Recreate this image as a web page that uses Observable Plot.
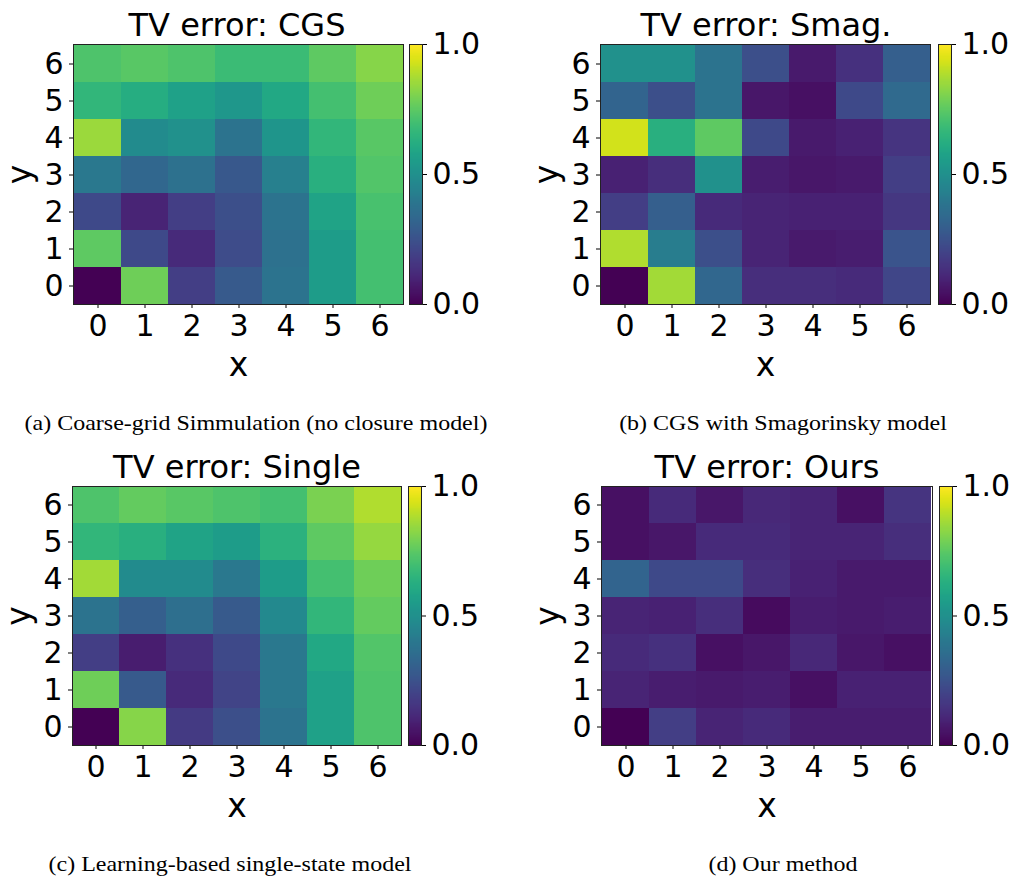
<!DOCTYPE html>
<html><head><meta charset="utf-8">
<script src="https://cdn.jsdelivr.net/npm/d3@7"></script>
<script src="https://cdn.jsdelivr.net/npm/@observablehq/plot@0.6"></script>
<style>
body{margin:0;background:#fff;width:1016px;height:877px;position:relative;overflow:hidden;}
.title{font-family:"DejaVu Sans";font-size:32px;color:#000;white-space:nowrap;transform:translateX(-50%);line-height:1;}
.cap{font-family:"Liberation Serif";font-size:22px;color:#000;white-space:nowrap;transform:translateX(-50%) scaleX(1.09);line-height:1;}
</style></head><body>
<script>
const xTicks = [0, 1, 2, 3, 4, 5, 6];
const yTicks = [0, 1, 2, 3, 4, 5, 6];
const cbTicks = [0, 0.5, 1];

// each list of rows goes from y = 6 (top) down to y = 0 (bottom), x = 0..6
const cgsRows = [
  [0.72, 0.74, 0.72, 0.68, 0.68, 0.75, 0.82],
  [0.66, 0.62, 0.57, 0.53, 0.60, 0.70, 0.78],
  [0.85, 0.48, 0.50, 0.38, 0.52, 0.66, 0.74],
  [0.40, 0.33, 0.37, 0.27, 0.43, 0.63, 0.73],
  [0.22, 0.10, 0.18, 0.24, 0.38, 0.58, 0.71],
  [0.75, 0.22, 0.12, 0.23, 0.37, 0.55, 0.70],
  [0.00, 0.78, 0.18, 0.28, 0.38, 0.55, 0.70]
];
const smagRows = [
  [0.50, 0.50, 0.38, 0.24, 0.07, 0.14, 0.30],
  [0.32, 0.24, 0.38, 0.06, 0.04, 0.22, 0.34],
  [0.93, 0.63, 0.75, 0.22, 0.07, 0.09, 0.15],
  [0.09, 0.13, 0.50, 0.08, 0.06, 0.07, 0.18],
  [0.18, 0.30, 0.12, 0.10, 0.09, 0.09, 0.16],
  [0.88, 0.42, 0.24, 0.10, 0.07, 0.08, 0.26],
  [0.00, 0.86, 0.33, 0.13, 0.13, 0.12, 0.21]
];
const singleRows = [
  [0.72, 0.76, 0.74, 0.72, 0.70, 0.80, 0.88],
  [0.66, 0.63, 0.58, 0.55, 0.64, 0.75, 0.84],
  [0.86, 0.48, 0.48, 0.40, 0.55, 0.70, 0.78],
  [0.38, 0.30, 0.36, 0.28, 0.47, 0.66, 0.76],
  [0.18, 0.08, 0.14, 0.22, 0.40, 0.60, 0.73],
  [0.78, 0.28, 0.12, 0.20, 0.40, 0.57, 0.72],
  [0.00, 0.82, 0.17, 0.24, 0.38, 0.57, 0.72]
];
const oursRows = [
  [0.04, 0.12, 0.06, 0.11, 0.10, 0.04, 0.15],
  [0.04, 0.06, 0.12, 0.12, 0.10, 0.10, 0.13],
  [0.32, 0.22, 0.22, 0.13, 0.09, 0.07, 0.07],
  [0.10, 0.09, 0.13, 0.03, 0.08, 0.07, 0.08],
  [0.12, 0.14, 0.04, 0.06, 0.11, 0.06, 0.04],
  [0.10, 0.08, 0.07, 0.08, 0.04, 0.09, 0.09],
  [0.00, 0.18, 0.10, 0.12, 0.08, 0.08, 0.08]
];

const titles = ["TV error: CGS", "TV error: Smag.", "TV error: Single", "TV error: Ours"];
const captions = [
  "(a) Coarse-grid Simmulation (no closure model)",
  "(b) CGS with Smagorinsky model",
  "(c) Learning-based single-state model",
  "(d) Our method"
];

const panels = [
  {rows: cgsRows,    fx: 72.5, fy: 44,  fw: 330, fh: 260, cbx: 409,   tx: 237, ty: 9,   cx: 256, cy: 411.5},
  {rows: smagRows,   fx: 600,  fy: 44,  fw: 330, fh: 260, cbx: 938,   tx: 766, ty: 9,   cx: 783, cy: 411.5},
  {rows: singleRows, fx: 72,   fy: 486, fw: 329, fh: 259, cbx: 407.5, tx: 237, ty: 451, cx: 230, cy: 852.5},
  {rows: oursRows,   fx: 601,  fy: 486, fw: 331, fh: 259, cbx: 939,   tx: 767, ty: 451, cx: 783, cy: 852.5}
];

const colorOpts = {type: "linear", scheme: "viridis", domain: [0, 1]};
const cbSteps = d3.range(0, 1, 0.004);

function place(el, left, top) {
  el.style.position = "absolute";
  el.style.left = left + "px";
  el.style.top = top + "px";
  document.body.appendChild(el);
}

panels.forEach((p, i) => {
  const cells = [];
  p.rows.forEach((row, r) => row.forEach((v, c) => cells.push({x: xTicks[c], y: yTicks[6 - r], v})));

  const mL = 73, mR = 6, mT = 10, mB = 80;
  const heat = Plot.plot({
    width: mL + p.fw + mR,
    height: mT + p.fh + mB,
    marginLeft: mL, marginRight: mR, marginTop: mT, marginBottom: mB,
    style: {fontFamily: "DejaVu Sans", fontSize: "30px", color: "#000", background: "transparent", overflow: "visible"},
    x: {type: "band", domain: xTicks, padding: 0, tickSize: 4, tickPadding: 6, label: null},
    y: {type: "band", domain: [...yTicks].reverse(), padding: 0, tickSize: 4, tickPadding: 6, label: null},
    color: colorOpts,
    marks: [
      Plot.cell(cells, {x: "x", y: "y", fill: "v", inset: 0, shapeRendering: "crispEdges"}),
      Plot.frame({stroke: "#222", strokeWidth: 1}),
      Plot.text(["x"], {frameAnchor: "bottom", lineAnchor: "middle", textAnchor: "middle", dy: 60.5, fontSize: 33, fill: "#000"}),
      Plot.text(["y"], {frameAnchor: "left", lineAnchor: "middle", textAnchor: "middle", dx: -53, rotate: -90, fontSize: 33, fill: "#000"})
    ]
  });
  place(heat, p.fx - mL, p.fy - mT);

  const cW = 13, cR = 70;
  const cb = Plot.plot({
    width: cW + cR,
    height: mT + p.fh + mB,
    marginLeft: 0, marginRight: cR, marginTop: mT, marginBottom: mB,
    style: {fontFamily: "DejaVu Sans", fontSize: "30px", color: "#000", background: "transparent", overflow: "visible"},
    x: {domain: [0, 1], axis: null},
    y: {domain: [0, 1], axis: "right", ticks: cbTicks, tickFormat: d3.format(".1f"), tickSize: 4, tickPadding: 6, label: null},
    color: colorOpts,
    marks: [
      Plot.rect(cbSteps, {x1: 0, x2: 1, y1: d => d, y2: d => d + 0.0045, fill: d => d + 0.002, shapeRendering: "crispEdges"}),
      Plot.frame({stroke: "#222", strokeWidth: 1})
    ]
  });
  place(cb, p.cbx, p.fy - mT);

  const t = document.createElement("div");
  t.className = "title";
  t.textContent = titles[i];
  place(t, p.tx, p.ty);

  const c = document.createElement("div");
  c.className = "cap";
  c.textContent = captions[i];
  place(c, p.cx, p.cy);
});
</script>
</body></html>
